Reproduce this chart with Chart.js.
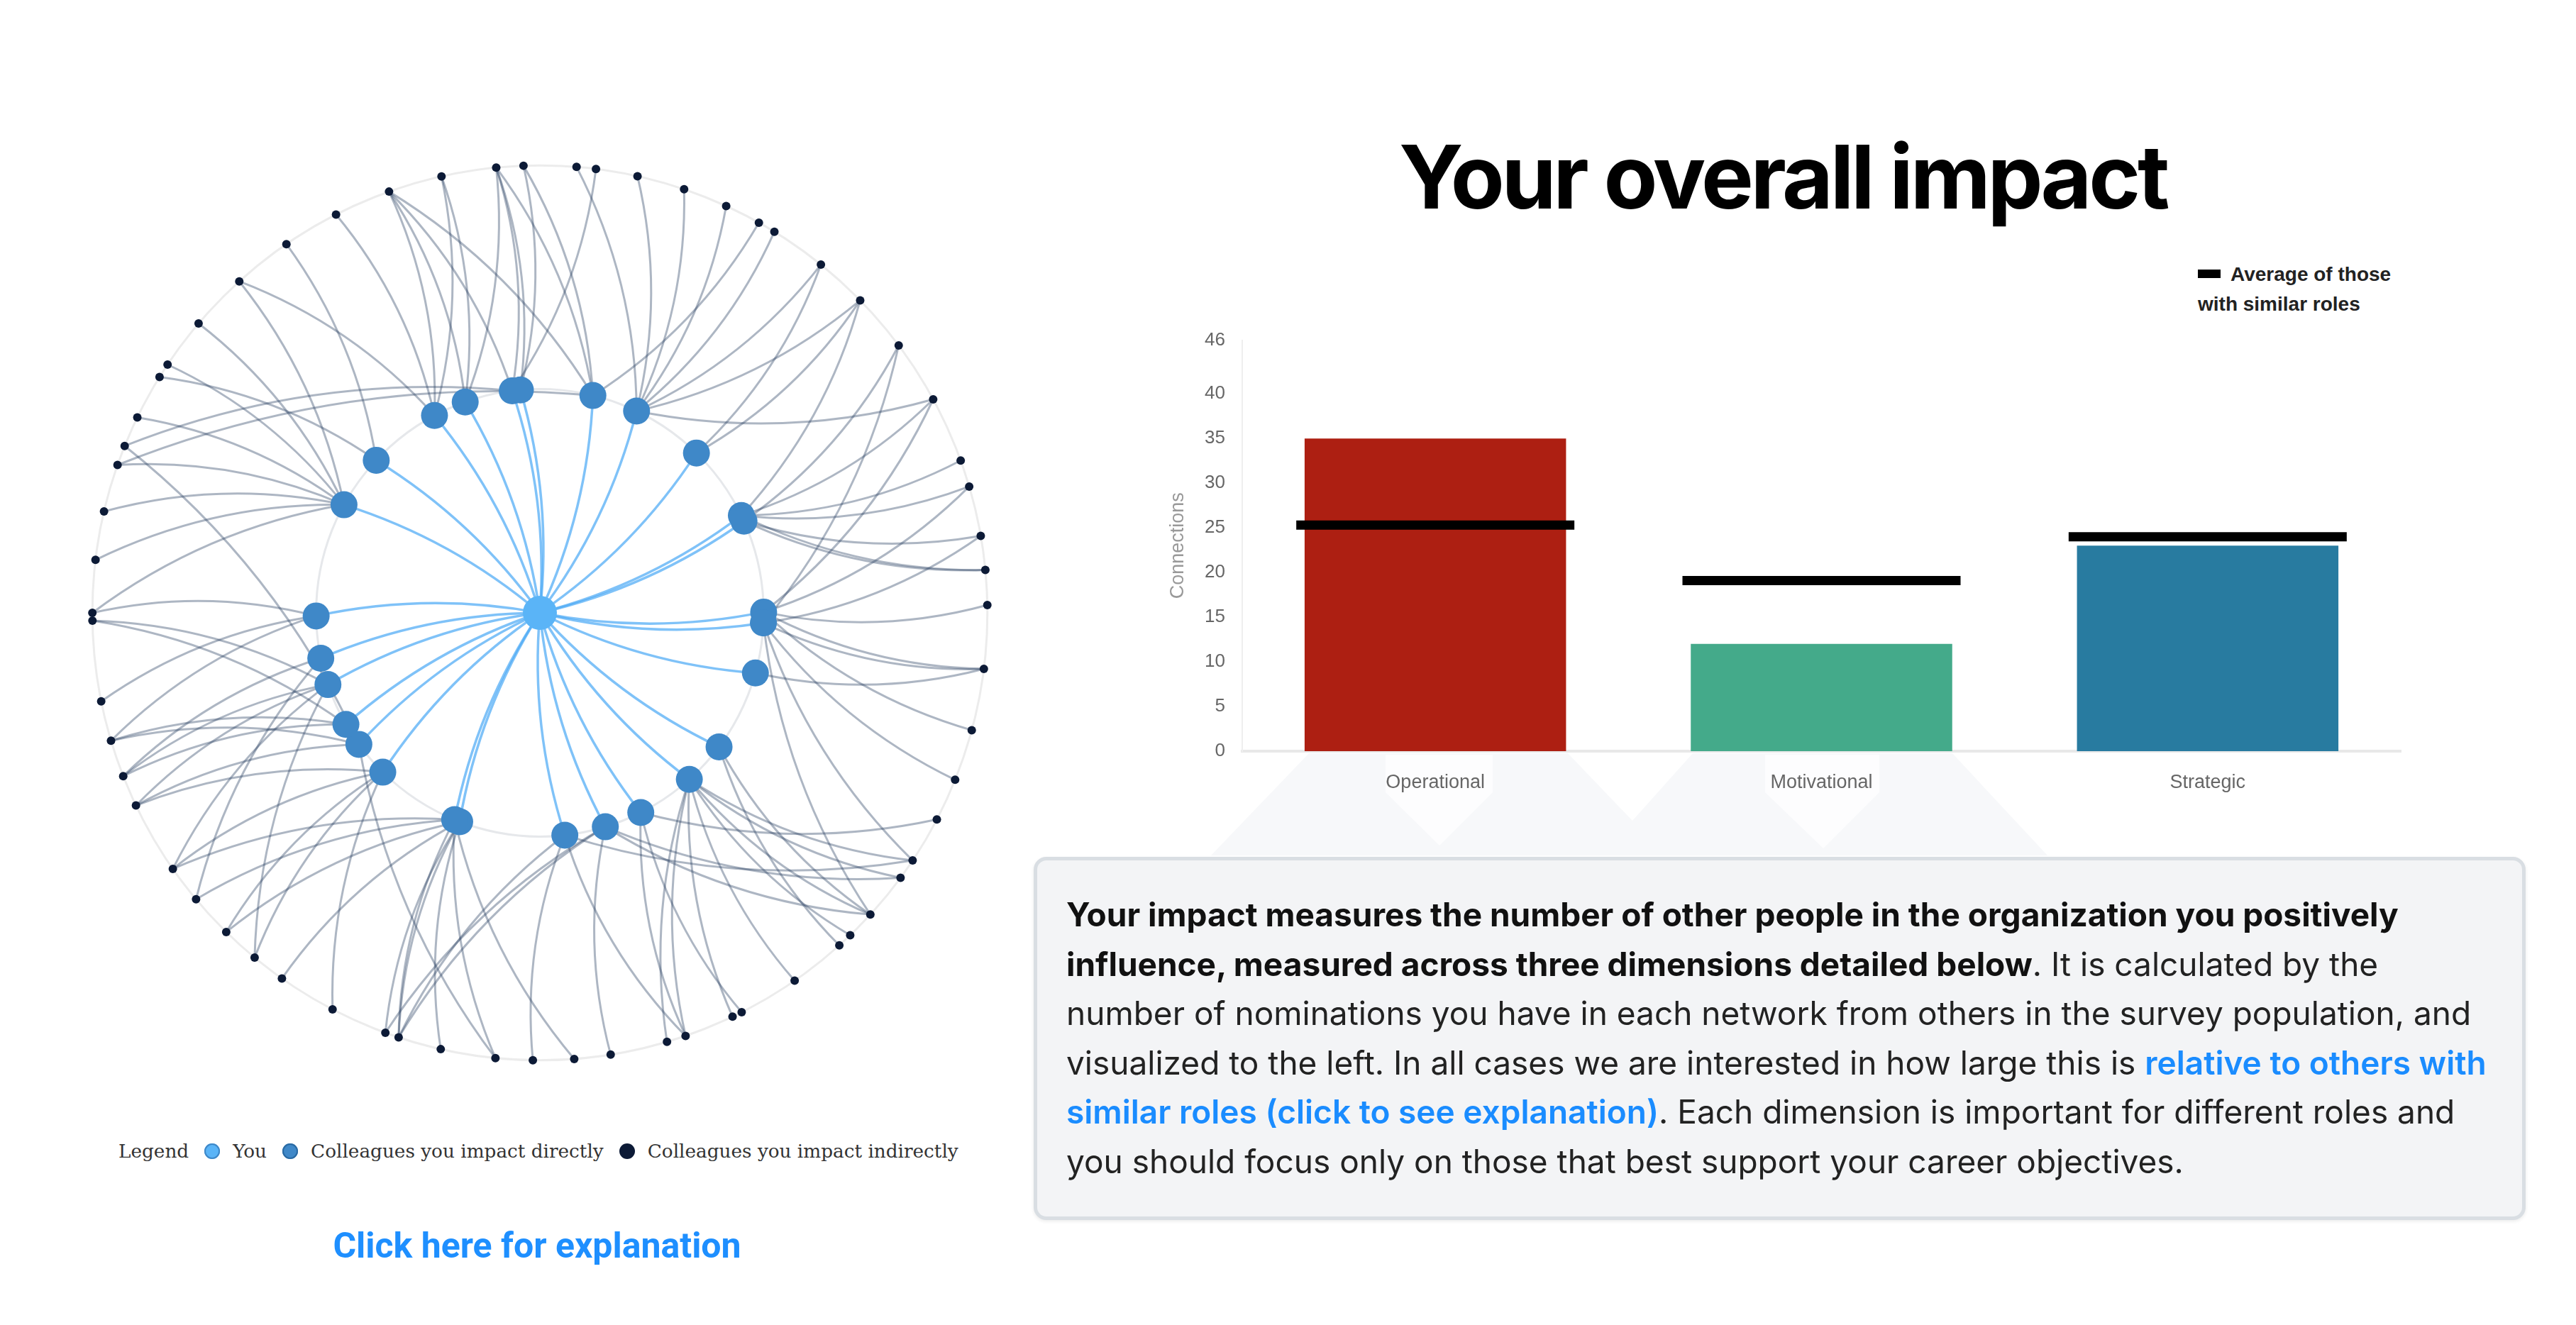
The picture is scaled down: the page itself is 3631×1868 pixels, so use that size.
<!DOCTYPE html>
<html>
<head>
<meta charset="utf-8">
<title>Your overall impact</title>
<script src="https://cdn.jsdelivr.net/npm/chart.js@4.4.0/dist/chart.umd.min.js"></script>
<style>
    html, body {
        margin: 0;
        padding: 0;
        background: #fff;
    }
    body {
        position: relative;
        width: 3631px;
        height: 1868px;
        overflow: hidden;
        font-family: Inter, "Noto Sans", sans-serif;
    }
    #network-wrap {
        position: absolute;
        left: 81px;
        top: 184px;
        width: 1360px;
        height: 1360px;
    }
    .net-legend {
        position: absolute;
        left: 167px;
        top: 1603px;
        height: 40px;
        display: flex;
        align-items: center;
        font-family: "DejaVu Serif", serif;
        font-size: 26.3px;
        color: #333;
        white-space: nowrap;
    }
    .net-legend .dot {
        display: inline-block;
        width: 22px;
        height: 22px;
        border-radius: 50%;
        margin: 0 18px 0 22px;
    }
    .explain {
        position: absolute;
        left: 357px;
        width: 800px;
        top: 1726px;
        line-height: 60px;
        text-align: center;
        font-family: Roboto, sans-serif;
        font-weight: 700;
        font-size: 50px;
        color: #1e8fff;
    }
    .title {
        position: absolute;
        left: 1813px;
        width: 1400px;
        top: 187px;
        margin: 0;
        line-height: 124px;
        text-align: center;
        font-family: Inter, sans-serif;
        font-weight: 700;
        font-size: 124px;
        letter-spacing: -4.3px;
        color: #000;
    }
    .bar-legend {
        position: absolute;
        left: 3098px;
        top: 366px;
        font-family: "Liberation Sans", Arial, sans-serif;
        font-weight: 700;
        font-size: 28px;
        line-height: 42px;
        color: #222;
        white-space: nowrap;
    }
    .bar-legend .mark {
        display: inline-block;
        width: 32px;
        height: 12px;
        background: #000;
        margin-right: 14px;
        vertical-align: 4px;
    }
    .pointer {
        position: absolute;
        left: 0;
        top: 0;
    }
    #bar-wrap {
        position: absolute;
        left: 1600px;
        top: 440px;
        width: 1800px;
        height: 700px;
    }
    .info-box {
        position: absolute;
        left: 1457px;
        top: 1208px;
        width: 2103px;
        height: 512px;
        box-sizing: border-box;
        padding: 42px 0 0 41px;
        background: #f3f4f6;
        border: 5px solid #d9dee3;
        border-radius: 18px;
        box-shadow: 0 2px 5px rgba(0, 0, 0, 0.08);
        font-family: Inter, sans-serif;
        font-size: 46px;
        line-height: 69.6px;
        color: #222;
        white-space: nowrap;
    }
    .info-box p {
        margin: 0;
    }
    .info-box b {
        font-weight: 700;
        color: #111;
    }
    .info-box .link {
        font-weight: 600;
        color: #1a8cff;
    }
</style>
</head>
<body>

<div id="network-wrap"><canvas id="network-chart"></canvas></div>

<div class="net-legend">
    <span>Legend</span><span class="dot" style="background:#5ab4f7;box-shadow:0 0 0 2px #3f88c8 inset"></span><span>You</span><span class="dot" style="background:#3f88c8;box-shadow:0 0 0 2px #2a6aa3 inset"></span><span>Colleagues you impact directly</span><span class="dot" style="background:#0c1a36"></span><span>Colleagues you impact indirectly</span>
</div>

<div class="explain">Click here for explanation</div>

<h1 class="title">Your overall impact</h1>

<div class="bar-legend">
    <div><span class="mark"></span>Average of those</div>
    <div>with similar roles</div>
</div>

<svg class="pointer" width="3631" height="1868">
    <polygon points="1707,1206 1845,1062 2210,1062 2301,1157 2386,1062 2752,1062 2886,1206" fill="#f7f8fa"/>
    <polygon points="1953,1064 2104,1064 2104,1117 2029,1192 1953,1117" fill="#fdfdfe"/>
    <polygon points="2488,1064 2649,1064 2649,1117 2570,1196 2488,1117" fill="#fdfdfe"/>
</svg>

<div id="bar-wrap"><canvas id="bar-chart"></canvas></div>

<div class="info-box">
    <p><b>Your impact measures the number of other people in the organization you positively</b><br>
    <b>influence, measured across three dimensions detailed below</b>. It is calculated by the<br>
    number of nominations you have in each network from others in the survey population, and<br>
    visualized to the left. In all cases we are interested in how large this is <span class="link">relative to others with</span><br>
    <span class="link">similar roles (click to see explanation)</span>. Each dimension is important for different roles and<br>
    you should focus only on those that best support your career objectives.</p>
</div>

<script>
// ---- network data (angles in degrees, 0 = top, clockwise) ----
const outerAngles = [
    4.7, 7.2, 12.6, 18.8, 24.6, 29.3, 31.6, 38.9, 45.7, 53.3,
    61.5, 70.1, 73.6, 80.1, 84.5, 89.0, 97.2, 105.2, 111.9, 117.5,
    123.6, 126.3, 132.4, 136.1, 138.0, 145.3, 153.2, 154.5, 161.0, 163.5,
    170.9, 175.6, 180.9, 185.7, 192.8, 198.4, 200.2, 207.6, 215.2, 219.6,
    224.5, 230.2, 235.1, 244.5, 248.6, 253.4, 258.6, 269.0, 270.0, 276.8,
    283.1, 289.3, 291.9, 295.9, 301.8, 303.7, 310.3, 317.8, 325.5, 332.9,
    340.3, 347.3, 354.4, 357.9
]
const directAngles = [
    331.9, 340.5, 352.9, 355.0, 13.7, 25.6, 44.4, 64.2, 65.8, 89.8,
    92.6, 105.6, 126.8, 138.1, 153.2, 163.0, 173.6, 201.0, 202.4, 224.6,
    234.0, 240.1, 251.3, 258.3, 269.2, 298.9, 313.0
]
// [direct colleague, indirect colleague]
const indirectLinks = [
    [0, 57], [0, 59], [0, 60], [0, 61],
    [1, 60], [1, 61], [1, 62],
    [2, 60], [2, 62], [2, 1], [2, 52],
    [3, 63], [3, 62],
    [4, 63], [4, 60], [4, 62], [4, 5], [4, 51],
    [5, 0], [5, 2], [5, 3], [5, 4], [5, 6], [5, 7], [5, 8], [5, 10],
    [6, 8], [6, 7],
    [7, 8], [7, 10], [7, 11], [7, 14], [7, 12],
    [8, 13], [8, 14], [8, 9],
    [9, 15], [9, 16], [9, 17], [9, 10], [9, 12],
    [10, 16], [10, 18], [10, 20], [10, 22], [10, 13], [10, 9],
    [11, 16],
    [12, 22], [12, 24],
    [13, 20], [13, 21], [13, 22], [13, 23], [13, 25], [13, 27], [13, 28], [13, 29],
    [14, 26], [14, 28], [14, 19],
    [15, 30], [15, 21], [15, 22], [15, 35], [15, 36],
    [16, 32], [16, 20], [16, 28], [16, 35],
    [17, 34], [17, 35], [17, 36], [17, 38], [17, 40],
    [18, 41], [18, 42], [18, 35], [18, 33], [18, 31],
    [19, 43], [19, 42], [19, 40], [19, 39], [19, 37],
    [20, 45], [20, 43], [20, 33], [20, 52],
    [21, 45], [21, 47], [21, 44],
    [22, 43], [22, 42], [22, 39], [22, 47], [22, 44],
    [23, 41], [23, 44],
    [24, 48], [24, 46], [24, 45],
    [25, 57], [25, 56], [25, 55], [25, 53], [25, 51], [25, 50], [25, 49], [25, 48],
    [26, 54], [26, 58]
]

// ---- bar chart data ----
const categories = ['Operational', 'Motivational', 'Strategic']
const connections = [35, 12, 23]
const similarAverage = [25.3, 19.1, 24.0]
const yTicks = [0, 5, 10, 15, 20, 25, 30, 35, 40, 46]
const barColors = ['#ad1f12', '#44aa8a', '#287ba0']


function polar(angle, r) {
    const t = angle * Math.PI / 180
    return { x: r * Math.sin(t), y: r * Math.cos(t) }
}

function drawCurve(ctx, p1, p2, bend) {
    const mx = (p1.x + p2.x) / 2
    const my = (p1.y + p2.y) / 2
    const cx = mx - (p2.y - p1.y) * bend
    const cy = my + (p2.x - p1.x) * bend
    ctx.beginPath()
    ctx.moveTo(p1.x, p1.y)
    ctx.quadraticCurveTo(cx, cy, p2.x, p2.y)
    ctx.stroke()
}

const networkLinks = {
    id: 'networkLinks',
    beforeDatasetsDraw(chart) {
        const ctx = chart.ctx
        const xs = chart.scales.x
        const ys = chart.scales.y
        const px = p => ({ x: xs.getPixelForValue(p.x), y: ys.getPixelForValue(p.y) })
        const c = px({ x: 0, y: 0 })
        const unit = xs.getPixelForValue(1) - c.x

        ctx.save()
        ctx.strokeStyle = '#ececec'
        ctx.lineWidth = 3
        ctx.beginPath()
        ctx.arc(c.x, c.y, unit, 0, Math.PI * 2)
        ctx.stroke()
        ctx.strokeStyle = '#e6e8eb'
        ctx.beginPath()
        ctx.arc(c.x, c.y, unit * 0.5, 0, Math.PI * 2)
        ctx.stroke()

        const outer = chart.data.datasets[2].data.map(px)
        const direct = chart.data.datasets[1].data.map(px)

        ctx.lineWidth = 3
        ctx.strokeStyle = 'rgba(40, 64, 98, 0.38)'
        indirectLinks.forEach(l => drawCurve(ctx, direct[l[0]], outer[l[1]], 0.12))

        ctx.lineWidth = 3.5
        ctx.strokeStyle = 'rgba(72, 168, 245, 0.7)'
        direct.forEach(p => drawCurve(ctx, c, p, 0.1))
        ctx.restore()
    }
}

function renderNetwork() {
    const config = {
        type: 'scatter',
        data: {
            datasets: [{
                label: 'You',
                data: [{ x: 0, y: 0 }],
                backgroundColor: '#5ab4f7',
                pointRadius: 24,
                borderWidth: 0
            }, {
                label: 'Colleagues you impact directly',
                data: directAngles.map(a => polar(a, 0.5)),
                backgroundColor: '#3f88c8',
                pointRadius: 19,
                borderWidth: 0
            }, {
                label: 'Colleagues you impact indirectly',
                data: outerAngles.map(a => polar(a, 1)),
                backgroundColor: '#0c1a36',
                pointRadius: 6,
                borderWidth: 0
            }]
        },
        options: {
            responsive: true,
            maintainAspectRatio: false,
            animation: false,
            layout: { padding: 0, autoPadding: false },
            scales: {
                x: { type: 'linear', min: -1.078, max: 1.078, display: false },
                y: { type: 'linear', min: -1.078, max: 1.078, display: false }
            },
            plugins: {
                legend: { display: false },
                tooltip: { enabled: false }
            }
        },
        plugins: [networkLinks]
    }
    new Chart(document.getElementById('network-chart'), config)
}

function renderBarChart() {
    const data = {
        labels: categories,
        datasets: [{
            type: 'line',
            label: 'Average of those with similar roles',
            data: similarAverage,
            showLine: false,
            pointStyle: 'line',
            pointRadius: 196,
            pointHoverRadius: 196,
            pointBorderWidth: 13,
            pointBorderColor: '#000',
            borderColor: '#000',
            clip: false,
            order: 0
        }, {
            type: 'bar',
            label: 'Connections',
            data: connections,
            backgroundColor: barColors,
            borderWidth: 0,
            barPercentage: 0.677,
            categoryPercentage: 1,
            order: 1
        }]
    }

    const config = {
        data: data,
        options: {
            responsive: true,
            maintainAspectRatio: false,
            animation: false,
            layout: { padding: { left: 0, right: 16, top: 24, bottom: 0 }, autoPadding: false },
            scales: {
                x: {
                    grid: { display: false, drawTicks: false },
                    border: { display: true, color: '#e8e8e8', width: 4 },
                    ticks: {
                        color: '#666',
                        padding: 28,
                        font: { family: '"Liberation Sans", Arial', size: 27 }
                    },
                    afterFit(scale) { scale.height = 81 }
                },
                y: {
                    min: 0,
                    max: 46,
                    grid: { display: false, drawTicks: false },
                    border: { display: true, color: '#efefef', width: 2 },
                    afterBuildTicks(scale) {
                        scale.ticks = yTicks.map(v => ({ value: v }))
                    },
                    ticks: {
                        color: '#666',
                        padding: 24,
                        autoSkip: false,
                        font: { family: '"Liberation Sans", Arial', size: 26 }
                    },
                    title: {
                        display: true,
                        text: 'Connections',
                        color: '#999',
                        padding: { top: 44, bottom: 0 },
                        font: { family: '"Liberation Sans", Arial', size: 27 }
                    },
                    afterFit(scale) { scale.width = 151 }
                }
            },
            plugins: {
                legend: { display: false },
                tooltip: { enabled: false }
            }
        }
    }

    new Chart(document.getElementById('bar-chart'), config)
}

renderNetwork()
renderBarChart()
</script>
</body>
</html>
